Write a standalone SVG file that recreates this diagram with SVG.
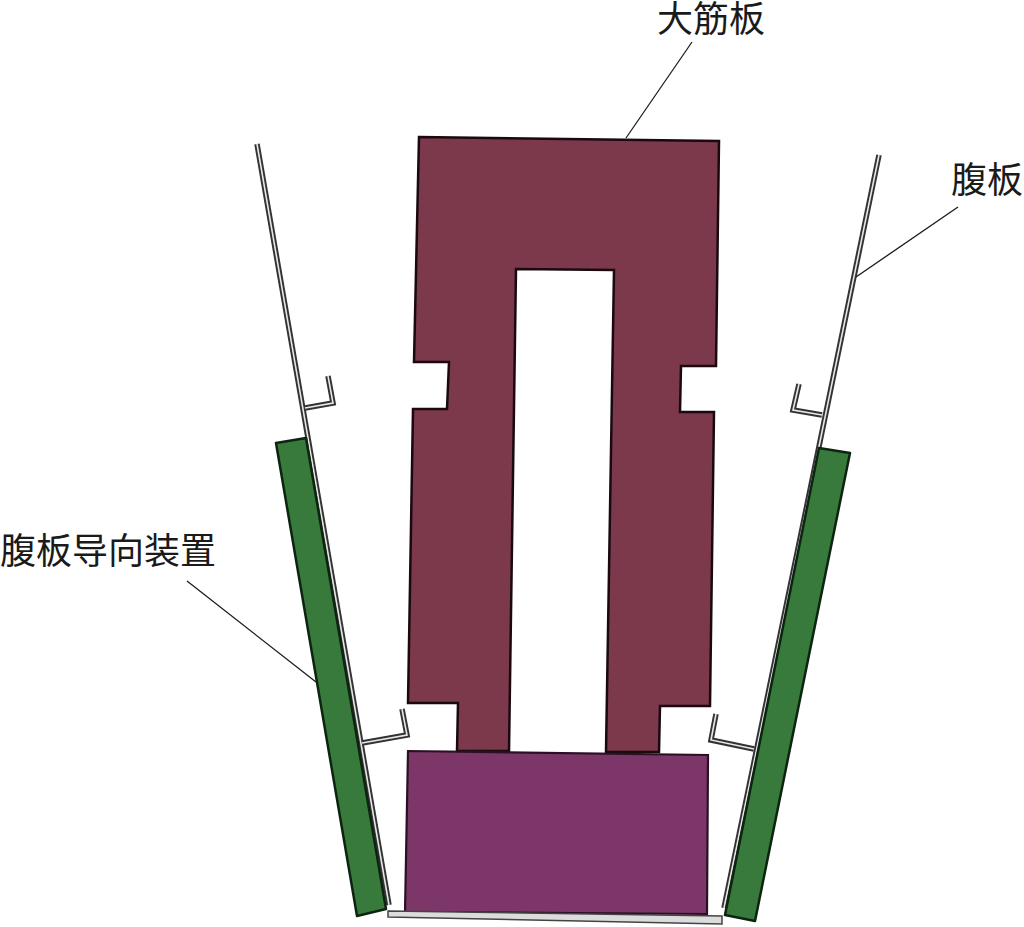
<svg xmlns="http://www.w3.org/2000/svg" width="1024" height="927" viewBox="0 0 1024 927">
<style>
.t{font-family:"Noto Sans CJK SC","Noto Sans",sans-serif;font-size:36px;fill:#1a1a1a}
.o{fill:none;stroke:#333;stroke-width:5.5;stroke-linejoin:miter}
.i{fill:none;stroke:#e8e8e8;stroke-width:1.6;stroke-linejoin:miter}
.g{fill:#387a3c;stroke:#0c2410;stroke-width:2.5;stroke-linejoin:round}
.l{fill:none;stroke:#1a1a1a;stroke-width:1.3}
</style>
<rect width="1024" height="927" fill="#fff"/>
<g id="rib-plate">
<path d="M419 137L719 141L716 366L681 366L680 412L714 412L710 706L660 706L659 752L606 752L614 270L516 269L509 751L457 751L458 703L408 703L413 409L447 409L449 362L414 362Z" fill="#7b394b" stroke="#1a0a10" stroke-width="2.5" stroke-linejoin="miter"/>
</g>
<g id="lower-block">
<path d="M408 751L708 755L707 914L405 912Z" fill="#7c3768" stroke="#2a1024" stroke-width="2.2"/>
</g>
<g id="base-strip">
<path d="M388 911L722 916L722 924L388 917Z" fill="#dcdcdc" stroke="#444" stroke-width="1.5"/>
</g>
<g id="left-web">
<path class="o" d="M257 144L389 905"/><path class="i" d="M257 144L389 905"/>
<path class="o" d="M305 408L333 403L328 376"/><path class="i" d="M305 408L333 403L328 376"/>
<path class="o" d="M362 743L407 735L402 709"/><path class="i" d="M362 743L407 735L402 709"/>
</g>
<g id="right-web">
<path class="o" d="M879 155L724 908"/><path class="i" d="M879 155L724 908"/>
<path class="o" d="M822 415L793 410L799 384"/><path class="i" d="M822 415L793 410L799 384"/>
<path class="o" d="M754 749L711 740L716 714"/><path class="i" d="M754 749L711 740L716 714"/>
</g>
<g id="left-guide">
<path class="g" d="M276 443L306 438L386 909L357 916Z"/>
</g>
<g id="right-guide">
<path class="g" d="M819 448L850 453L755 921L725 915Z"/>
</g>
<g id="connectors">
<path class="l" d="M692 42L626 138"/>
<path class="l" d="M958 207L856 277"/>
<path class="l" d="M187 581L316 682"/>
</g>
<g id="label-rib"><text class="t" x="657" y="32">大筋板</text></g>
<g id="label-web"><text class="t" x="951" y="193">腹板</text></g>
<g id="label-guide"><text class="t" x="0" y="564">腹板导向装置</text></g>
</svg>
